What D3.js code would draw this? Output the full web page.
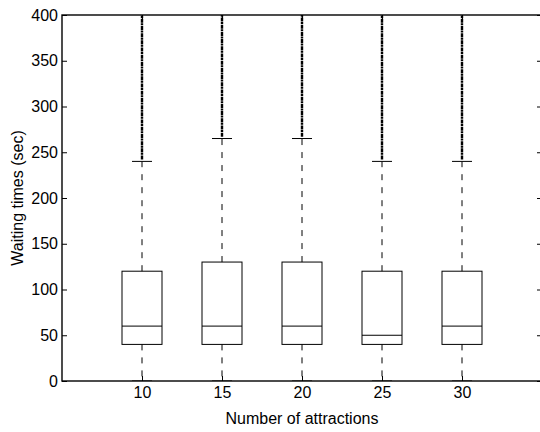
<!DOCTYPE html>
<meta charset="utf-8">
<style>
body { margin: 0; background: #fff; }
text { font-family: "Liberation Sans", Arial, sans-serif; font-size: 16px; fill: #000; }
.whisker { stroke: #000; stroke-width: 1; stroke-dasharray: 6,7; fill: none; }
.box { fill: none; stroke: #000; stroke-width: 1; }
.line { stroke: #000; stroke-width: 1; }
.outlier { stroke: #000; stroke-width: 2.4; stroke-dasharray: 4,0.7,2,0.5; }
</style>
<body>
<script src="https://cdn.jsdelivr.net/npm/d3@7"></script>
<script>

// data
var categories = ["10", "15", "20", "25", "30"];
var lowerWhisker = [0, 0, 0, 0, 0];
var q1 = [40, 40, 40, 40, 40];
var median = [60, 60, 60, 50, 60];
var q3 = [120, 130, 130, 120, 120];
var upperWhisker = [240, 265, 265, 240, 240];
// outliers: densely packed from just above the whisker up past the top of the axes
var outlierLow = [242, 267, 267, 242, 242];
var outlierHigh = [400, 400, 400, 400, 400];
var yTicks = [0, 50, 100, 150, 200, 250, 300, 350, 400];

var width = 540, height = 432;
var margin = {top: 15, right: -2, bottom: 51, left: 62};
var w = width - margin.left - margin.right,
    h = height - margin.top - margin.bottom;

var svg = d3.select("body").append("svg")
    .attr("width", width)
    .attr("height", height);

var g = svg.append("g")
    .attr("transform", "translate(" + margin.left + "," + margin.top + ")");

// positions 1..5 on a 0..6 axis
var x = d3.scaleLinear().domain([0, 6]).range([0, w]);
var y = d3.scaleLinear().domain([0, 400]).range([h, 0]);

var boxHalf = 0.25, capHalf = 0.125;

g.append("clipPath").attr("id", "clip")
  .append("rect").attr("width", w).attr("height", h);

var plot = g.append("g").attr("clip-path", "url(#clip)");

var groups = plot.selectAll("g.grp")
    .data(categories)
  .enter().append("g")
    .attr("class", "grp");

// outlier columns
groups.append("line")
    .attr("class", "outlier")
    .attr("x1", function(d, i) { return x(i + 1); })
    .attr("x2", function(d, i) { return x(i + 1); })
    .attr("y1", function(d, i) { return y(outlierLow[i]); })
    .attr("y2", function(d, i) { return y(outlierHigh[i]); });

// whiskers
groups.append("line")
    .attr("class", "whisker")
    .attr("x1", function(d, i) { return x(i + 1); })
    .attr("x2", function(d, i) { return x(i + 1); })
    .attr("y1", function(d, i) { return y(q3[i]); })
    .attr("y2", function(d, i) { return y(upperWhisker[i]); });

groups.append("line")
    .attr("class", "whisker")
    .attr("x1", function(d, i) { return x(i + 1); })
    .attr("x2", function(d, i) { return x(i + 1); })
    .attr("y1", function(d, i) { return y(q1[i]); })
    .attr("y2", function(d, i) { return y(lowerWhisker[i]); });

// whisker caps
groups.append("line")
    .attr("class", "line")
    .attr("x1", function(d, i) { return x(i + 1 - capHalf); })
    .attr("x2", function(d, i) { return x(i + 1 + capHalf); })
    .attr("y1", function(d, i) { return y(upperWhisker[i]); })
    .attr("y2", function(d, i) { return y(upperWhisker[i]); });

groups.append("line")
    .attr("class", "line")
    .attr("x1", function(d, i) { return x(i + 1 - capHalf); })
    .attr("x2", function(d, i) { return x(i + 1 + capHalf); })
    .attr("y1", function(d, i) { return y(lowerWhisker[i]); })
    .attr("y2", function(d, i) { return y(lowerWhisker[i]); });

// boxes
groups.append("rect")
    .attr("class", "box")
    .attr("x", function(d, i) { return x(i + 1 - boxHalf); })
    .attr("width", function(d, i) { return x(i + 1 + boxHalf) - x(i + 1 - boxHalf); })
    .attr("y", function(d, i) { return y(q3[i]); })
    .attr("height", function(d, i) { return y(q1[i]) - y(q3[i]); });

// medians
groups.append("line")
    .attr("class", "line")
    .attr("x1", function(d, i) { return x(i + 1 - boxHalf); })
    .attr("x2", function(d, i) { return x(i + 1 + boxHalf); })
    .attr("y1", function(d, i) { return y(median[i]); })
    .attr("y2", function(d, i) { return y(median[i]); });

// axes, ticks pointing inward
var xTickPos = categories.map(function(d, i) { return i + 1; });

var xAxis = g.append("g")
    .attr("transform", "translate(0," + h + ")")
    .call(d3.axisBottom(x).tickValues(xTickPos)
      .tickFormat(function(d) { return categories[d - 1]; })
      .tickSizeInner(-5).tickSizeOuter(0).tickPadding(6));

var xTop = g.append("g")
    .call(d3.axisTop(x).tickValues(xTickPos).tickFormat("")
      .tickSizeInner(-5).tickSizeOuter(0));

var yAxis = g.append("g")
    .call(d3.axisLeft(y).tickValues(yTicks)
      .tickSizeInner(-5).tickSizeOuter(0).tickPadding(4));

var yRight = g.append("g")
    .attr("transform", "translate(" + w + ",0)")
    .call(d3.axisRight(y).tickValues(yTicks).tickFormat("")
      .tickSizeInner(-5).tickSizeOuter(0));

g.selectAll(".domain").remove();
g.selectAll(".tick line").attr("stroke", "#000");
g.selectAll(".tick text")
    .style("font-family", "'Liberation Sans', Arial, sans-serif")
    .style("font-size", "16px");

// frame
g.append("rect")
    .attr("width", w)
    .attr("height", h)
    .attr("fill", "none")
    .attr("stroke", "#000")
    .attr("stroke-width", 1.4);

// labels
svg.append("text")
    .attr("x", margin.left + w / 2)
    .attr("y", 424)
    .attr("text-anchor", "middle")
    .text("Number of attractions");

svg.append("text")
    .attr("transform", "translate(23," + (margin.top + h / 2) + ") rotate(-90)")
    .attr("text-anchor", "middle")
    .text("Waiting times (sec)");

</script>
</body>
